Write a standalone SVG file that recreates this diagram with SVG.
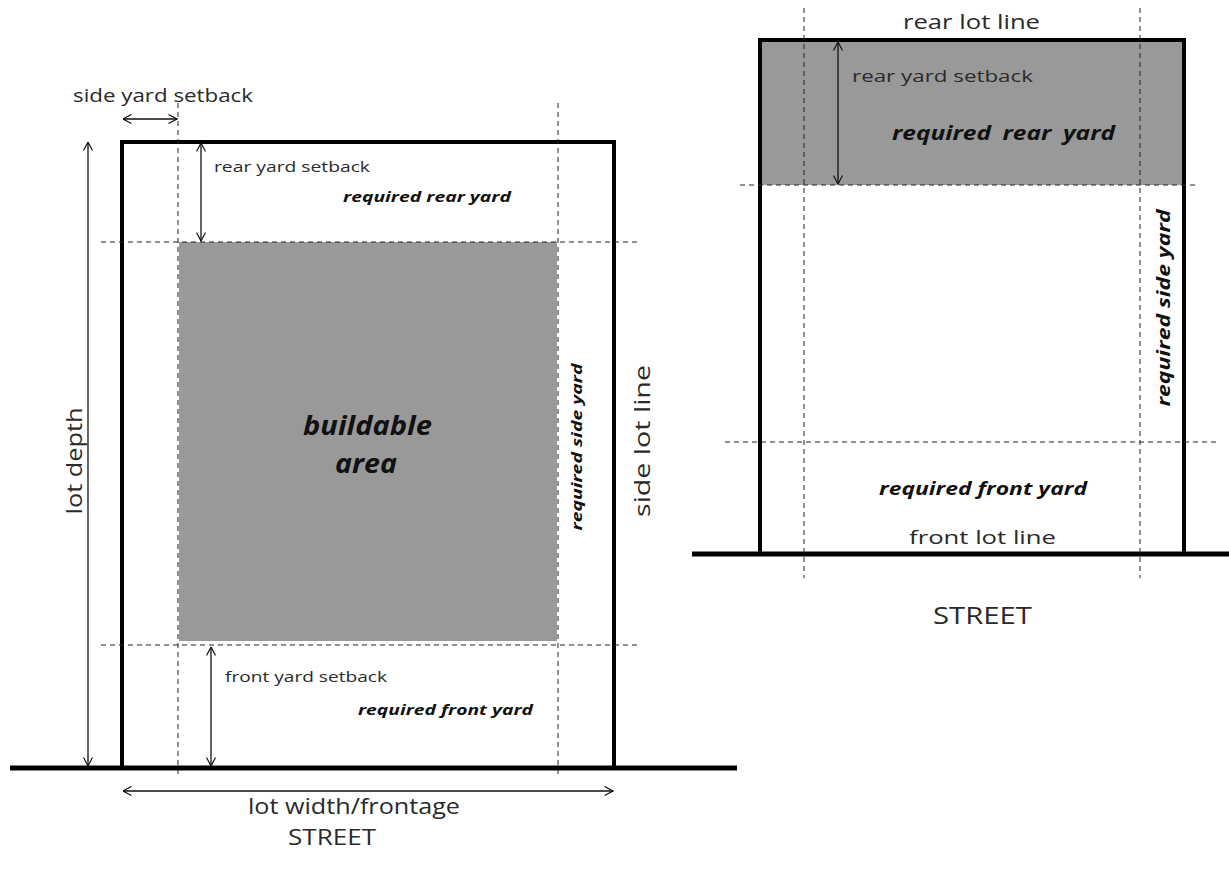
<svg xmlns="http://www.w3.org/2000/svg" width="1229" height="875" viewBox="0 0 1229 875">
<defs>
<marker id="ah" viewBox="0 0 10 10" refX="9.5" refY="5" markerWidth="10" markerHeight="10" markerUnits="userSpaceOnUse" orient="auto-start-reverse">
<path d="M1,0.5 L9.5,5 L1,9.5" fill="none" stroke="#111" stroke-width="1.2"/>
</marker>
<style>
.lot{fill:none;stroke:#000;stroke-width:4;stroke-linejoin:miter}
.street{stroke:#000;stroke-width:5}
.dash{stroke:#222;stroke-width:1;stroke-dasharray:5,4;fill:none}
.dim{stroke:#111;stroke-width:1.3;fill:none;marker-start:url(#ah);marker-end:url(#ah)}
.gray{fill:#999999}
.t{font-family:"Open Sans","Liberation Sans",sans-serif;fill:#2a2a2a}
.b{font-family:"Open Sans","Liberation Sans",sans-serif;font-weight:bold;font-style:italic;fill:#111}
</style>
</defs>

<g id="left-lot">
<rect class="gray" x="179" y="242" width="378" height="399"/>
<path class="lot" d="M122,768 V142 H614 V768"/>
<line class="street" x1="10" y1="768" x2="737" y2="768"/>
</g>

<g id="right-lot">
<rect class="gray" x="760" y="40" width="424" height="145"/>
<path class="lot" d="M760,553 V40 H1184 V553"/>
<line class="street" x1="692" y1="554" x2="1229" y2="554"/>
</g>

<g id="guides">
<line class="dash" x1="178" y1="103" x2="178" y2="778"/>
<line class="dash" x1="558" y1="103" x2="558" y2="778"/>
<line class="dash" x1="101" y1="242" x2="638" y2="242"/>
<line class="dash" x1="101" y1="645" x2="638" y2="645"/>
<line class="dash" x1="804" y1="8" x2="804" y2="578"/>
<line class="dash" x1="1140" y1="8" x2="1140" y2="578"/>
<line class="dash" x1="740" y1="185" x2="1197" y2="185"/>
<line class="dash" x1="725" y1="442" x2="1220" y2="442"/>
</g>

<g id="connectors">
<line class="dim" x1="123" y1="119" x2="177" y2="119"/>
<line class="dim" x1="88" y1="142" x2="88" y2="766"/>
<line class="dim" x1="201" y1="143" x2="201" y2="241"/>
<line class="dim" x1="211" y1="647" x2="211" y2="766"/>
<line class="dim" x1="123" y1="791" x2="613" y2="791"/>
<line class="dim" x1="838" y1="42" x2="838" y2="184"/>
</g>

<g id="left-labels">
<text class="t" x="73" y="102" font-size="19" textLength="180" lengthAdjust="spacingAndGlyphs">side yard setback</text>
<text class="t" x="214" y="172" font-size="14.5" textLength="156" lengthAdjust="spacingAndGlyphs">rear yard setback</text>
<text class="b" x="343" y="202" font-size="14.5" textLength="168" lengthAdjust="spacingAndGlyphs">required rear yard</text>
<text class="b" x="303" y="435" font-size="27" textLength="129" lengthAdjust="spacingAndGlyphs">buildable</text>
<text class="b" x="335" y="473" font-size="27" textLength="62" lengthAdjust="spacingAndGlyphs">area</text>
<text class="t" transform="translate(82,461) rotate(-90)" text-anchor="middle" font-size="22" textLength="107" lengthAdjust="spacingAndGlyphs">lot depth</text>
<text class="b" transform="translate(582,447) rotate(-90)" text-anchor="middle" font-size="14.5" textLength="167" lengthAdjust="spacingAndGlyphs">required side yard</text>
<text class="t" transform="translate(650,441) rotate(-90)" text-anchor="middle" font-size="22" textLength="152" lengthAdjust="spacingAndGlyphs">side lot line</text>
<text class="t" x="225" y="682" font-size="14.5" textLength="162" lengthAdjust="spacingAndGlyphs">front yard setback</text>
<text class="b" x="358" y="715" font-size="14.5" textLength="175" lengthAdjust="spacingAndGlyphs">required front yard</text>
<text class="t" x="248" y="814" font-size="21" textLength="212" lengthAdjust="spacingAndGlyphs">lot width/frontage</text>
<text class="t" x="288" y="845" font-size="22" textLength="88" lengthAdjust="spacingAndGlyphs">STREET</text>
</g>

<g id="right-labels">
<text class="t" x="903" y="29" font-size="20" textLength="137" lengthAdjust="spacingAndGlyphs">rear lot line</text>
<text class="t" x="852" y="82" font-size="17" textLength="181" lengthAdjust="spacingAndGlyphs">rear yard setback</text>
<text class="b" x="892" y="140" font-size="19" textLength="223" lengthAdjust="spacingAndGlyphs" word-spacing="4">required rear yard</text>
<text class="b" transform="translate(1170,308) rotate(-90)" text-anchor="middle" font-size="17" textLength="197" lengthAdjust="spacingAndGlyphs">required side yard</text>
<text class="b" x="879" y="495" font-size="17" textLength="208" lengthAdjust="spacingAndGlyphs">required front yard</text>
<text class="t" x="909" y="544" font-size="19" textLength="147" lengthAdjust="spacingAndGlyphs">front lot line</text>
<text class="t" x="933" y="624" font-size="23" textLength="99" lengthAdjust="spacingAndGlyphs">STREET</text>
</g>
</svg>
